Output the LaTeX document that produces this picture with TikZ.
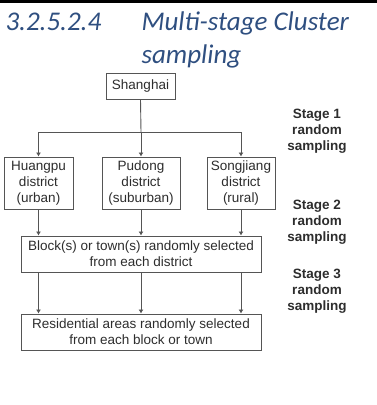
\documentclass[tikz,border=0pt]{standalone}
\usepackage{fontspec}
\setmainfont{Liberation Sans}
\newfontfamily\titlefont{Carlito}
\usetikzlibrary{arrows.meta}
\definecolor{headblue}{RGB}{47,79,128}
\definecolor{linegray}{RGB}{85,85,85}
\definecolor{textgray}{RGB}{45,45,45}
\tikzset{
    box/.style={draw=linegray, line width=0.9pt, align=center, text=textgray, inner sep=1pt,
        font=\fontsize{13.5}{16}\selectfont},
    stagelabel/.style={align=center, font=\bfseries\fontsize{13.5}{16}\selectfont, text=textgray},
    link/.style={draw=linegray, line width=0.9pt, -{Latex[length=4pt,width=5pt]}},
}
\begin{document}
\begin{tikzpicture}[x=1pt, y=-1pt]
    \useasboundingbox (0, 0) rectangle (377, 405);
    \fill[black] (0, 0) rectangle (377, 3);

    \node[anchor=base west, text=headblue, font=\titlefont\itshape\fontsize{27}{33}\selectfont] (secnum) at (2, 30) {3.2.5.2.4};
    \node[anchor=base west, text=headblue, font=\titlefont\itshape\fontsize{27}{33}\selectfont] (title) at (138, 30) {Multi-stage Cluster};
    \node[anchor=base west, text=headblue, font=\titlefont\itshape\fontsize{27}{33}\selectfont] (title2) at (138, 63) {sampling};

    \node[box, minimum width=69, minimum height=26] (shanghai) at (140.5, 86) {Shanghai};
    \node[box, minimum width=69, minimum height=52] (huangpu) at (38.5, 183) {Huangpu\\district\\(urban)};
    \node[box, minimum width=78, minimum height=52] (pudong) at (141, 183) {Pudong\\district\\(suburban)};
    \node[box, minimum width=68, minimum height=52] (songjiang) at (241, 183) {Songjiang\\district\\(rural)};
    \node[box, minimum width=240, minimum height=36] (block) at (141, 254) {Block(s) or town(s) randomly selected\\from each district};
    \node[box, minimum width=240, minimum height=36] (resid) at (141, 332) {Residential areas randomly selected\\from each block or town};

    \node[stagelabel] (stage1) at (317, 131) {Stage 1\\random\\sampling};
    \node[stagelabel] (stage2) at (317, 222) {Stage 2\\random\\sampling};
    \node[stagelabel] (stage3) at (317, 291) {Stage 3\\random\\sampling};

    \coordinate (split) at (141, 132);
    \draw[draw=linegray, line width=0.9pt] (shanghai.south) -- (split);
    \draw[link] (split) -| (huangpu.north);
    \draw[link] (split) -- (pudong.north);
    \draw[link] (split) -| (songjiang.north);

    \draw[link] (huangpu.south) -- (huangpu.south |- block.north);
    \draw[link] (pudong.south) -- (pudong.south |- block.north);
    \draw[link] (songjiang.south) -- (songjiang.south |- block.north);

    \draw[link] (block.south -| huangpu) -- (resid.north -| huangpu);
    \draw[link] (block.south -| pudong) -- (resid.north -| pudong);
    \draw[link] (block.south -| songjiang) -- (resid.north -| songjiang);
\end{tikzpicture}
\end{document}
